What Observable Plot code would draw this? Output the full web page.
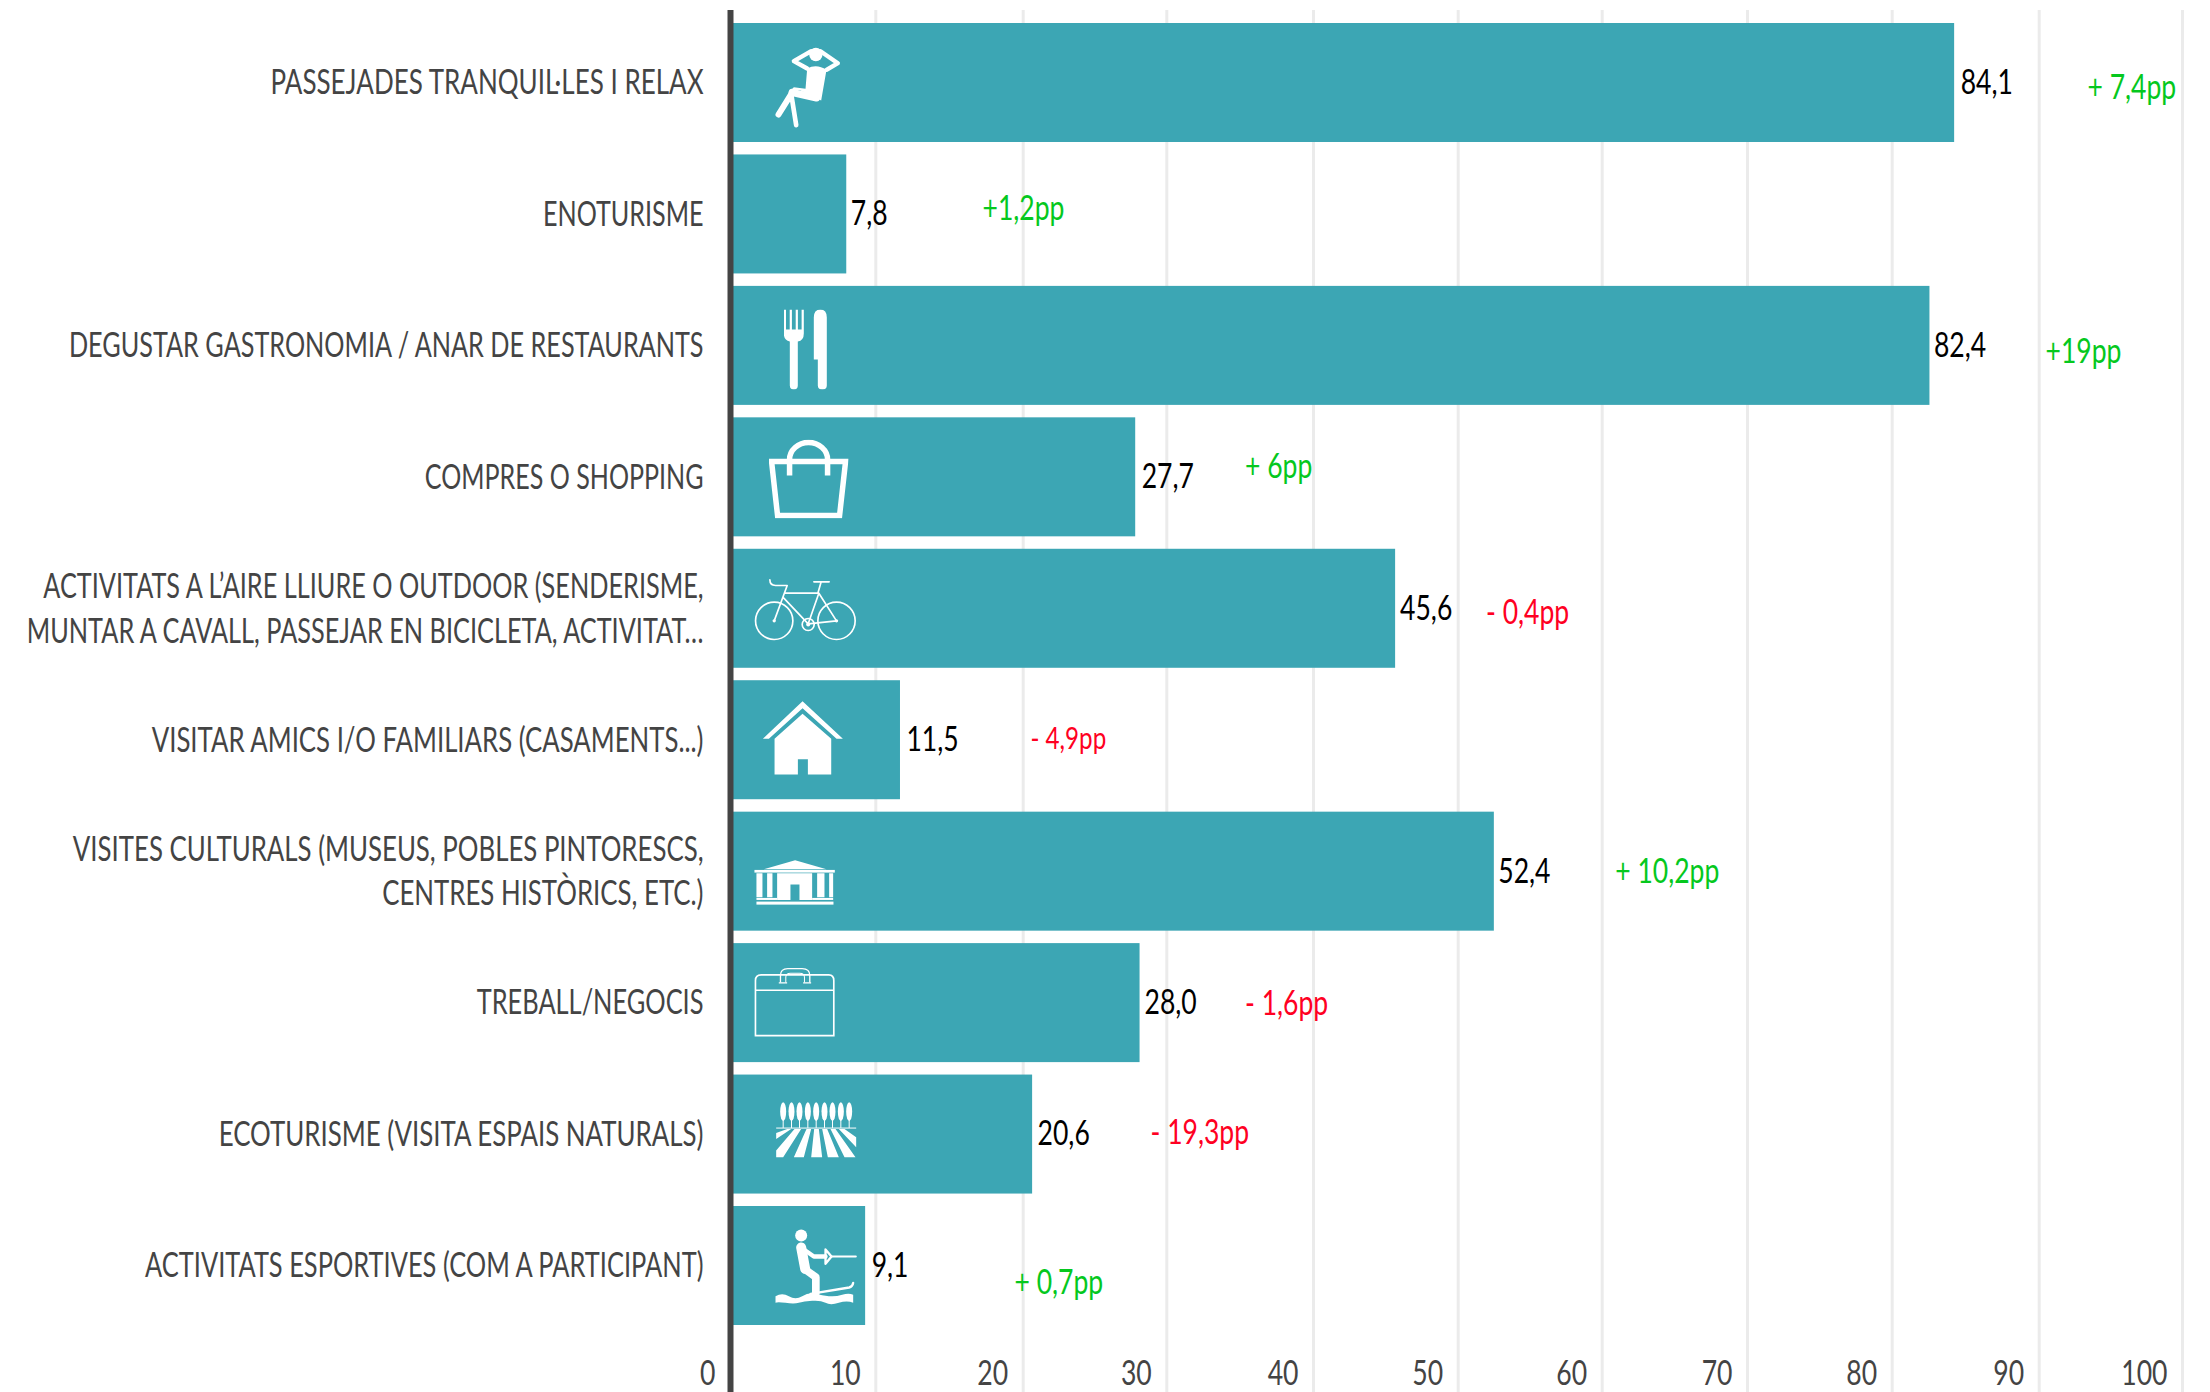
<!DOCTYPE html>
<html><head><meta charset="utf-8">
<script src="https://cdn.jsdelivr.net/npm/d3@7"></script>
<script src="https://cdn.jsdelivr.net/npm/@observablehq/plot@0.6"></script>
<style>html,body{margin:0;background:#fff}svg{display:block}</style></head>
<body><div id="c"></div>
<script>
const categories=["PASSEJADES TRANQUIL·LES I RELAX","ENOTURISME","DEGUSTAR GASTRONOMIA / ANAR DE RESTAURANTS","COMPRES O SHOPPING","ACTIVITATS A L’AIRE LLIURE O OUTDOOR (SENDERISME,\nMUNTAR A CAVALL, PASSEJAR EN BICICLETA, ACTIVITAT…","VISITAR AMICS I/O FAMILIARS (CASAMENTS...)","VISITES CULTURALS (MUSEUS, POBLES PINTORESCS,\nCENTRES HISTÒRICS, ETC.)","TREBALL/NEGOCIS","ECOTURISME (VISITA ESPAIS NATURALS)","ACTIVITATS ESPORTIVES (COM A PARTICIPANT)"];
const values=[84.1,7.8,82.4,27.7,45.6,11.5,52.4,28.0,20.6,9.1];
const changes=["+ 7,4pp","+1,2pp","+19pp","+ 6pp","- 0,4pp","- 4,9pp","+ 10,2pp","- 1,6pp","- 19,3pp","+ 0,7pp"];
const xTicks=[0,10,20,30,40,50,60,70,80,90,100];

// Placement of the free-floating annotations, in axis units / pixel nudges
const tickNudge=[-3,-2.9,-0.7,-2.3,-0.8,-1.3,-2.5,-2.4,-2.9,-1.1,-3];
const valueDx=[6,4,4,6,4.5,6,4,4.5,5,6];
const changeX=[93.25,17.15,90.36,35.23,51.83,20.45,60.73,35.23,28.72,19.35];
const changeDy=[5.5,-5.3,6.6,-10.3,4.7,-1.2,0.9,0.9,-1,17.5];
const labelSqueeze=[0.765,0.739,0.742,0.737,0.744,0.758,0.759,0.747,0.761,0.748];

const W='fill="#fff"', S='fill="none" stroke="#fff" stroke-linecap="round" stroke-linejoin="round"';
const svgUri=(vb,body)=>"data:image/svg+xml,"+encodeURIComponent(`<svg xmlns="http://www.w3.org/2000/svg" viewBox="${vb}">${body}</svg>`);
const trees=[38,63,87,112,137,162,186,211,236].map(x=>`<ellipse cx="${x}" cy="48" rx="9" ry="28" ${W}/><rect x="${x-1.5}" y="70" width="3" height="27" ${W}/>`).join("");
const icons=[
 {row:0,x:4.96,dy:5,w:90,h:95,src:svgUri("0 0 270 285",`<path d="M152 32L100 62L140 84M180 32L232 68L198 88" ${S} stroke-width="13"/><circle cx="166" cy="42" r="20" ${W}/><path d="M140 84Q168 68 198 88L182 180L120 150L92 148L100 140L135 145Z" ${W}/><path d="M94 158L54 222" ${S} stroke-width="18"/><path d="M92 160L107 254" ${S} stroke-width="14"/><path d="M95 156L168 172" ${S} stroke-width="22"/>`)},
 {row:2,x:4.98,dy:3.6,w:44,h:80,src:svgUri("0 0 44 80",`<path d="M0 0H2.2V20H5.9V0H8.1V20H11.9V0H14.1V20H17.8V0H20V24Q20 31 14 32V76Q14 80 10 80Q6 80 6 76V32Q0 31 0 24Z" ${W}/><path d="M30 50V8Q30 0 36.5 0Q43 0 43 8V76Q43 80 38.5 80Q34 80 34 76V50Z" ${W}/>`)},
 {row:3,x:5.17,dy:1.7,w:80,h:79,src:svgUri("0 0 80 79",`<path d="M3 22H77L71 76H9Z" fill="none" stroke="#fff" stroke-width="5.5"/><path d="M21 36V20A19 17 0 0 1 59 20V36" fill="none" stroke="#fff" stroke-width="5.5"/>`)},
 {row:4,x:4.96,dy:0.9,w:103.3,h:65,src:svgUri("160 50 310 195",`<g ${S} stroke-width="5"><circle cx="221" cy="181" r="56"/><circle cx="408" cy="181" r="56"/><circle cx="323" cy="192" r="18"/><path d="M208 58Q208 75 225 75H260L221 181M252 98H355M247 110L323 190L408 181L355 98L323 190M340 64H386M362 64L352 98"/></g><circle cx="323" cy="192" r="6" ${W}/><circle cx="221" cy="181" r="5" ${W}/><circle cx="408" cy="181" r="5" ${W}/>`)},
 {row:5,x:4.79,dy:-2.2,w:81.7,h:75,src:svgUri("185 420 245 225",`<path d="M187 535L306 422L427 535H408L306 443L205 535Z" ${W}/><path d="M222 535L306 460L392 535V642H322V596H292V642H222Z" ${W}/>`)},
 {row:6,x:4.21,dy:10.6,w:81.7,h:46.7,src:svgUri("160 895 245 140",`<path d="M190 926L284 899L378 926Z" ${W}/><rect x="162" y="928" width="241" height="8" ${W}/><rect x="168" y="938" width="18" height="72" ${W}/><rect x="200" y="938" width="16" height="72" ${W}/><path d="M230 938H335V1018H297V972H270V1018H230Z" ${W}/><rect x="350" y="938" width="22" height="72" ${W}/><rect x="386" y="938" width="12" height="72" ${W}/><rect x="168" y="1012" width="62" height="6" ${W}/><rect x="335" y="1012" width="63" height="6" ${W}/><rect x="168" y="1023" width="231" height="9" ${W}/>`)},
 {row:7,x:4.21,dy:-0.9,w:81.7,h:70,src:svgUri("160 1220 245 210",`<g fill="none" stroke="#fff"><path d="M165 1425V1260Q165 1243 182 1243H385Q400 1243 400 1260V1425Z" stroke-width="5"/><path d="M165 1289H400" stroke-width="5"/><path d="M240 1266V1245Q240 1224 262 1224H305Q328 1224 328 1245V1266" stroke-width="4"/><path d="M256 1266V1250Q256 1238 270 1238H298Q312 1238 312 1250V1266" stroke-width="3"/><path d="M235 1267H260M308 1267H332" stroke-width="4"/></g>`)},
 {row:8,x:5.82,dy:-4,w:95,h:70,src:svgUri("0 0 285 210",`${trees}<rect x="17" y="96" width="240" height="3" ${W}/><path d="M17 112L50 100H62L17 130ZM72 100H92L38 185H17V165ZM108 100H122L100 185H70ZM131 100H145L155 185H122ZM155 100H170L205 185H172ZM180 100H195L255 185H222ZM205 100H222L257 125V155Z" ${W}/>`)},
 {row:9,x:5.82,dy:2,w:95,h:85,src:svgUri("0 0 285 255",`<circle cx="92" cy="30" r="18" ${W}/><path d="M92 66L104 130" ${S} stroke-width="30"/><path d="M100 72L130 93H165" ${S} stroke-width="13"/><path d="M165 72L183 93L165 115Z" ${S} stroke-width="7"/><path d="M183 93H256" ${S} stroke-width="6"/><path d="M104 132L136 155V202" ${S} stroke-width="23"/><path d="M120 205L236 186Q246 184 248 172" ${S} stroke-width="7"/><path d="M15 212Q35 200 55 212T95 212T135 205T175 212T215 208T248 208V232Q230 224 205 232T165 232T125 226T85 232T45 232T15 232Z" ${W}/>`)}
];

const table=categories.map((c,i)=>({c,v:values[i],t:changes[i],i}));
const font="Lato,'Liberation Sans',sans-serif";
const yOf=d=>d.c;
const plot=Plot.plot({width:2210,height:1392,marginLeft:733,marginRight:0,marginTop:10,marginBottom:0,style:{fontFamily:font,background:"#fff"},
x:{domain:[0,100],range:[733,2185]},
y:{domain:categories,range:[23,1325],paddingInner:0.0947,paddingOuter:0,align:0.5,round:false},
marks:[
...xTicks.map((t,i)=>Plot.ruleX([t],{x:d=>d,dx:tickNudge[i],stroke:"#ebebeb",strokeWidth:3})),
Plot.barX(table,{x:"v",y:"c",fill:"#3ca6b4"}),
Plot.ruleX([0],{dx:-3,stroke:"#444",strokeWidth:6}),
Plot.axisY({tickSize:0,tickPadding:30,fontSize:34,dy:-3,fill:"#444",lineHeight:1.32,label:null}),
...xTicks.map((t,i)=>Plot.axisX({ticks:[t],anchor:"bottom",tickSize:0,tickPadding:-18.6,lineAnchor:"middle",textAnchor:"end",dx:tickNudge[i]-15,fontSize:35,fill:"#444",label:null})),
...table.map(d=>Plot.text([d],{x:"v",y:yOf,text:r=>r.v.toFixed(1).replace(".",","),textAnchor:"start",dx:valueDx[d.i],fontSize:34,fill:"#000"})),
...table.map((d,i)=>Plot.text([d],{x:()=>changeX[i],y:yOf,text:"t",textAnchor:"start",dy:changeDy[i],fontSize:i===5?31:34,fill:d.t.startsWith("+")?"#05c81e":"#ff0022"})),
...icons.map(ic=>Plot.image([ic],{x:r=>r.x,y:r=>categories[r.row],src:r=>r.src,width:r=>r.w,height:r=>r.h,dy:ic.dy}))
]});
// The reference's face is a narrow one: condense every label horizontally around its anchor.
const squeeze=(sel,k)=>d3.select(plot).selectAll(sel).attr("transform",function(_,i){return (this.getAttribute("transform")||"")+` scale(${typeof k==="number"?k:k[i]},1)`;});
squeeze('g[aria-label="y-axis tick label"] text',labelSqueeze);
squeeze('g[aria-label="x-axis tick label"] text',0.76);
squeeze('g[aria-label="text"] text',0.78);
document.getElementById("c").append(plot);
</script></body></html>
